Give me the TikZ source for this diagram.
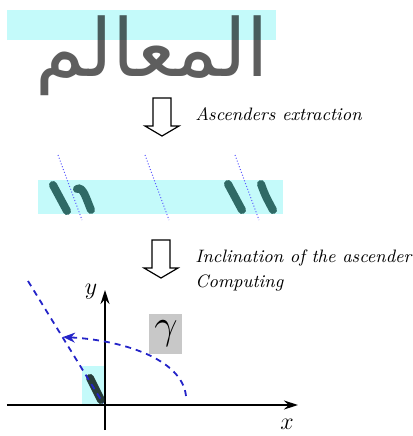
\documentclass[tikz,border=0pt]{standalone}
\usepackage{fontspec}
\usepackage{tikz}
\usetikzlibrary{arrows.meta,positioning,calc}
\newfontfamily\arabicfont[Script=Arabic]{DejaVu Sans}
\TeXXeTstate=1
\definecolor{bandcyan}{HTML}{C4FAFA}
\definecolor{inkgray}{HTML}{5E5E5E}
\definecolor{ascteal}{HTML}{2F6A66}
\definecolor{dashblue}{HTML}{2424C8}
\definecolor{gammagray}{HTML}{C8C8C8}

\tikzset{
    hollowdown/.pic={
        \draw[line width=0.6pt, fill=white] (-9,-19) -- (9,-19) -- (9,9) -- (17,9)
            -- (0,19) -- (-17,9) -- (-9,9) -- cycle;
    },
}

\begin{document}
\begin{tikzpicture}[
    x=0.5pt, y=-0.5pt,
    band/.style={fill=bandcyan},
    caption/.style={font=\fontsize{9}{12.5}\selectfont\itshape, align=left, anchor=west, inner sep=0pt},
    ascender/.style={ascteal, line width=4pt, line cap=round},
    guide/.style={blue!65, densely dotted, line width=0.5pt},
    axis/.style={-{Stealth[length=7pt, width=4.5pt]}, line width=0.7pt},
    track/.style={dashblue, dash pattern=on 3pt off 2.5pt, line width=0.9pt},
]
    \useasboundingbox (0,0) rectangle (413,436);

    % Handwritten word with the ascender band
    \node[font=\arabicfont\fontsize{40}{40}\selectfont, text=inkgray, anchor=base, inner sep=0pt] (word) at (152,76) {\beginR المعالم\endR};
    \begin{scope}[blend mode=multiply]
        \fill[band] (7,10) rectangle (276,40);
    \end{scope}

    \pic (arr1) at (162,117) {hollowdown};
    \node[caption] (cap1) at (195,114) {Ascenders extraction};

    % Extracted ascenders
    \fill[band] (38,180) rectangle (283,214);
    \draw[ascender] (53,185) -- (67,211);
    \draw[ascender] (77,189) .. controls (83,186) and (86,198) .. (91,210);
    \draw[ascender] (228,184) -- (242,210);
    \draw[ascender] (261,184) .. controls (265,195) .. (273,210);
    \draw[guide] (58,155) -- (82,220);
    \draw[guide] (145,155) -- (169,220);
    \draw[guide] (235,155) -- (259,220);

    \pic (arr2) at (161,259) {hollowdown};
    \node[caption] (cap2) at (195,270.5) {Inclination of the ascender\\Computing};

    % Inclination
    \coordinate (O) at (105,405);
    \coordinate (xl) at (7,405);
    \coordinate (xr) at (298,405);
    \coordinate (yb) at (105,430);
    \coordinate (yt) at (105,290);
    \fill[band] (82,366) rectangle (O);
    \draw[axis] (xl) -- (xr);
    \draw[axis] (yb) -- (yt);
    \node[font=\fontsize{13}{13}\selectfont] (ylab) at (91,292) {$y$};
    \node[font=\fontsize{13}{13}\selectfont] (xlab) at (287,424) {$x$};
    \node[fill=gammagray, minimum width=16.5pt, minimum height=20pt, inner sep=0pt, font=\fontsize{20}{20}\selectfont] (gam) at (166,334) {$\gamma$};

    \coordinate (tstart) at (28,281);
    \coordinate (tend) at (103,403);
    \coordinate (cstart) at (186,396);
    \coordinate (cend) at (63,337);
    \draw[line width=4pt, line cap=round, color=black!75!ascteal, opacity=0.85] (90,378) -- (101,400);
    \draw[track] (tstart) -- (tend);
    \draw[track, -{Stealth[length=6pt, width=5pt]}] (cstart) .. controls (182,358) and (120,340) .. (cend);
\end{tikzpicture}
\end{document}
